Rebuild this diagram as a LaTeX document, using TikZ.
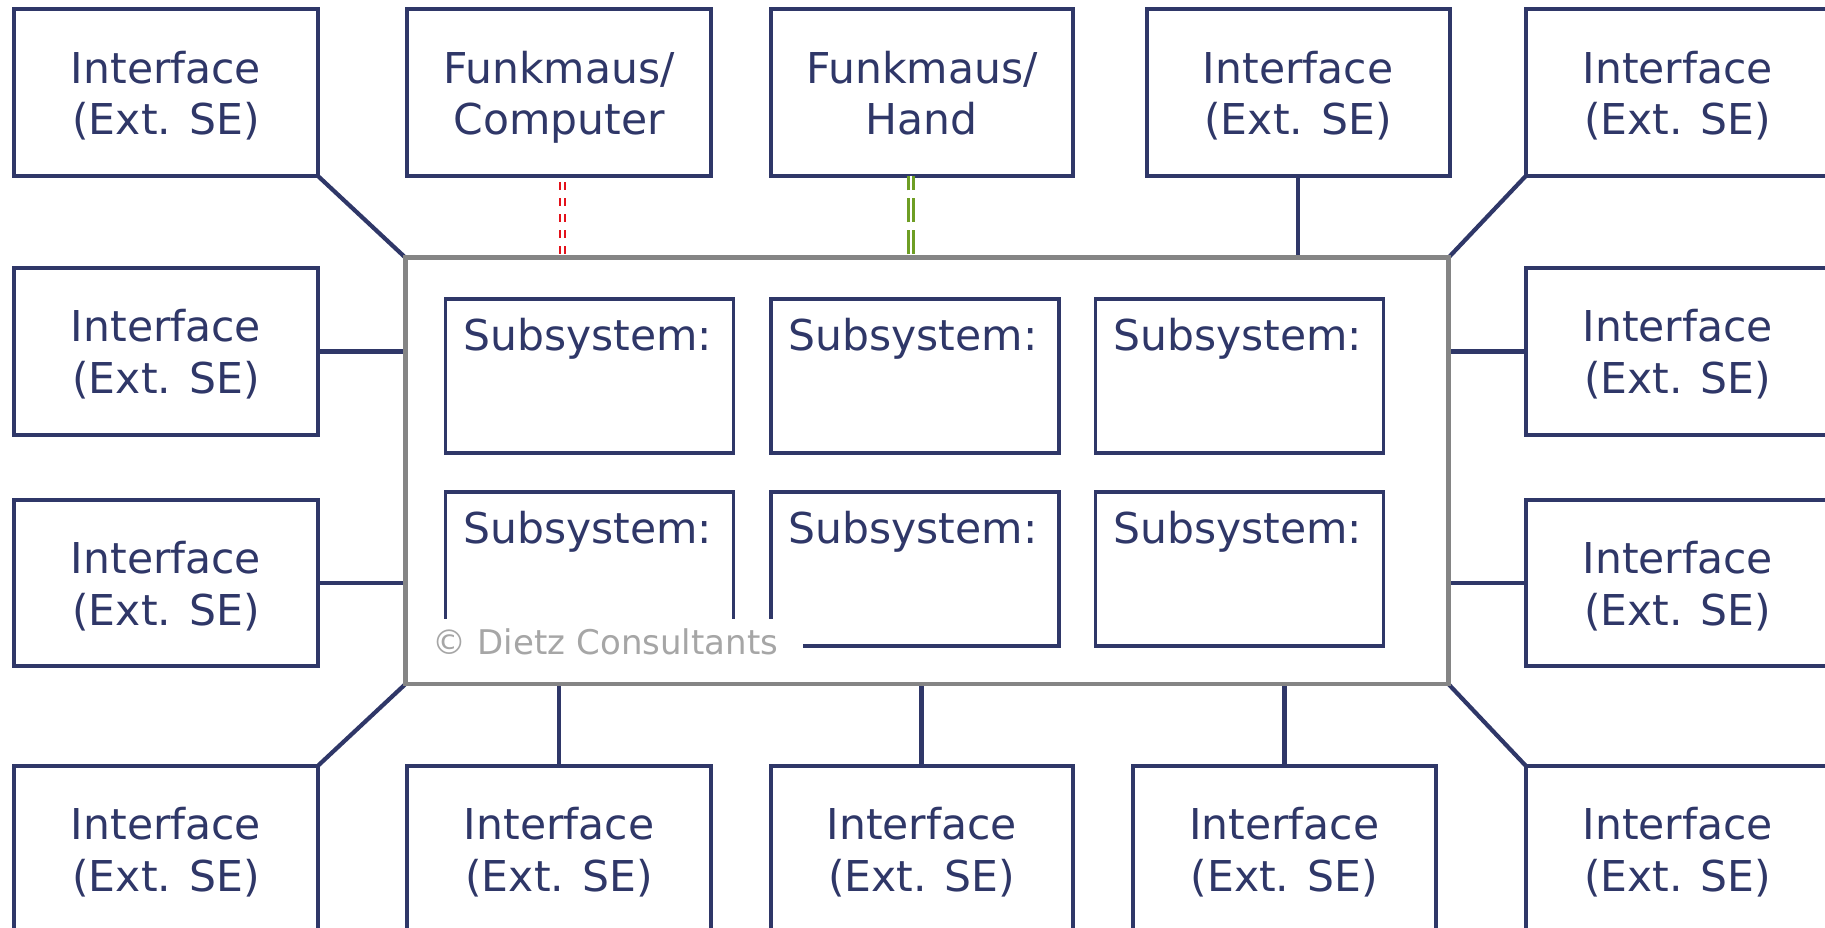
\documentclass[tikz,border=0pt]{standalone}
\usepackage{fontspec}
\setmainfont{DejaVu Sans}
\usetikzlibrary{calc}
\definecolor{navy}{HTML}{2F3768}
\definecolor{framegray}{HTML}{858585}
\definecolor{cred}{HTML}{E3121B}
\definecolor{cgreen}{HTML}{6E9E24}
\definecolor{cgray}{HTML}{A6A6A6}
\newcommand\twol[2]{\strut#1\\#2\strut}
\begin{document}
\begin{tikzpicture}[x=1pt,y=-1pt,
  extbox/.style={draw=navy, line width=4pt, minimum width=304pt, minimum height=166.7pt, inner sep=0pt, outer sep=0pt},
  boxtext/.style={anchor=center, yshift=-6.1pt, align=center, text=navy, font=\fontsize{42.5}{51.7}\selectfont, inner sep=0pt},
  subbox/.style={draw=navy, line width=3.8pt, minimum width=288pt, minimum height=154pt, inner sep=0pt, outer sep=0pt},
  subtext/.style={anchor=base west, xshift=17.5pt, yshift=-51pt, text=navy, font=\fontsize{42.5}{51.7}\selectfont, inner sep=0pt},
  link/.style={draw=navy, line width=4.7pt},
  diag/.style={draw=navy, line width=4.2pt},
  frame/.style={draw=framegray, line width=4.7pt, inner sep=0pt, outer sep=0pt, minimum width=1042.9pt, minimum height=426.3pt},
  copyr/.style={fill=white, text=cgray, font=\fontsize{34}{40}\selectfont, inner xsep=12pt, inner ysep=9pt, text width=359pt, align=left, anchor=base west},
  reddash/.style={draw=cred, line width=2.3pt, double=white, double distance=2.8pt, dash pattern=on 7.7pt off 8.3pt, dash phase=10pt},
  greendash/.style={draw=cgreen, line width=2.7pt, double=white, double distance=2.6pt, dash pattern=on 24.3pt off 7.7pt, dash phase=28.6pt}
]
\useasboundingbox (0,0) rectangle (1825,928);
\clip (0,0) rectangle (1825,928);
\fill[white] (0,0) rectangle (1825,928);

% main frame
\node[frame] (main) at (926.95,470.85) {};

% top row
\node[extbox, label={[boxtext]center:{\twol{Interface}{(Ext. SE)}}}] (t1) at (166,92.7) {};
\node[extbox, label={[boxtext]center:{\twol{Funkmaus/}{Computer}}}] (t2) at (559,92.7) {};
\node[extbox, minimum width=301.6pt, label={[boxtext]center:{\twol{Funkmaus/}{Hand}}}] (t3) at (921.8,92.7) {};
\node[extbox, minimum width=303pt, label={[boxtext]center:{\twol{Interface}{(Ext. SE)}}}] (t4) at (1298,92.7) {};
\node[extbox, label={[boxtext]center:{\twol{Interface}{(Ext. SE)}}}] (t5) at (1677.7,92.7) {};

% sides
\node[extbox, label={[boxtext]center:{\twol{Interface}{(Ext. SE)}}}] (l2) at (166,351.3) {};
\node[extbox, label={[boxtext]center:{\twol{Interface}{(Ext. SE)}}}] (l3) at (166,583) {};
\node[extbox, label={[boxtext]center:{\twol{Interface}{(Ext. SE)}}}] (r2) at (1677.7,351.3) {};
\node[extbox, label={[boxtext]center:{\twol{Interface}{(Ext. SE)}}}] (r3) at (1677.7,583) {};

% bottom row
\node[extbox, label={[boxtext]center:{\twol{Interface}{(Ext. SE)}}}] (b1) at (166,849.05) {};
\node[extbox, label={[boxtext]center:{\twol{Interface}{(Ext. SE)}}}] (b2) at (559,849.05) {};
\node[extbox, minimum width=301.6pt, label={[boxtext]center:{\twol{Interface}{(Ext. SE)}}}] (b3) at (921.8,849.05) {};
\node[extbox, minimum width=302.6pt, label={[boxtext]center:{\twol{Interface}{(Ext. SE)}}}] (b4) at (1284.3,849.05) {};
\node[extbox, label={[boxtext]center:{\twol{Interface}{(Ext. SE)}}}] (b5) at (1677.7,849.05) {};

% subsystems
\node[subbox, label={[subtext]north west:{Subsystem:}}] (s1) at (589.5,376.2) {};
\node[subbox, label={[subtext]north west:{Subsystem:}}] (s2) at (914.8,376.2) {};
\node[subbox, label={[subtext]north west:{Subsystem:}}] (s3) at (1239.5,376.2) {};
\node[subbox, label={[subtext]north west:{Subsystem:}}] (s4) at (589.5,569) {};
\node[subbox, label={[subtext]north west:{Subsystem:}}] (s5) at (914.8,569) {};
\node[subbox, label={[subtext]north west:{Subsystem:}}] (s6) at (1239.5,569) {};

% copyright
\node[copyr] (copy) at (420,654) {\copyright\ Dietz Consultants};

% connectors
\draw[diag] (t1.south east) -- (main.north west);
\draw[reddash] ([xshift=3.5pt]t2.south) -- ([xshift=3.5pt]t2.south |- main.north);
\draw[greendash] ([xshift=-11pt]t3.south |- main.north) -- ([xshift=-11pt]t3.south);
\draw[link] (t4.south) -- (t4.south |- main.north);
\draw[diag] (t5.south west) -- (main.north east);
\draw[link] (l2.east) -- (l2.east -| main.west);
\draw[link] (l3.east) -- (l3.east -| main.west);
\draw[link] (r2.west) -- (r2.west -| main.east);
\draw[link] (r3.west) -- (r3.west -| main.east);
\draw[diag] (b1.north east) -- (main.south west);
\draw[link] (b2.north) -- (b2.north |- main.south);
\draw[link] (b3.north) -- (b3.north |- main.south);
\draw[link] (b4.north) -- (b4.north |- main.south);
\draw[diag] (b5.north west) -- (main.south east);

% redraw frame on top of connector ends
\draw[draw=framegray, line width=4.7pt] (main.north west) rectangle (main.south east);
\end{tikzpicture}
\end{document}
